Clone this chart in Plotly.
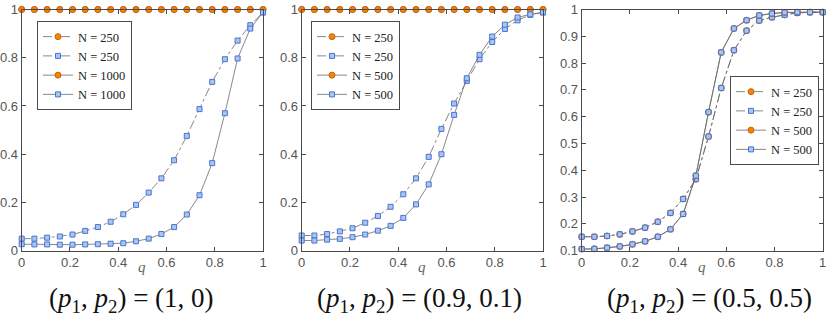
import plotly.graph_objects as go

q = [i / 19 for i in range(20)]

# Panel 1: (p1,p2) = (1,0)
p1_orange_250 = [1.0] * 20
p1_blue_250 = [0.050, 0.050, 0.054, 0.059, 0.067, 0.082, 0.098, 0.120, 0.151, 0.190,
               0.241, 0.300, 0.375, 0.476, 0.587, 0.700, 0.794, 0.871, 0.935, 0.988]
p1_orange_1000 = [1.0] * 20
p1_blue_1000 = [0.027, 0.026, 0.026, 0.025, 0.025, 0.026, 0.027, 0.029, 0.031, 0.039,
                0.050, 0.069, 0.098, 0.150, 0.230, 0.363, 0.570, 0.797, 0.921, 0.988]

# Panel 2: (p1,p2) = (0.9,0.1)
p2_orange_250 = [1.0] * 20
p2_blue_250 = [0.063, 0.063, 0.069, 0.080, 0.093, 0.116, 0.144, 0.182, 0.234, 0.300,
               0.389, 0.505, 0.610, 0.704, 0.794, 0.865, 0.919, 0.955, 0.978, 0.988]
p2_orange_500 = [1.0] * 20
p2_blue_500 = [0.042, 0.042, 0.046, 0.049, 0.056, 0.067, 0.083, 0.103, 0.136, 0.192,
               0.275, 0.400, 0.563, 0.715, 0.812, 0.888, 0.937, 0.967, 0.980, 0.988]

# Panel 3: (p1,p2) = (0.5,0.5)
p3_blue_250 = [0.152, 0.152, 0.155, 0.161, 0.172, 0.186, 0.208, 0.241, 0.293, 0.367,
               0.526, 0.707, 0.848, 0.921, 0.959, 0.971, 0.980, 0.987, 0.990, 0.990]
p3_orange_250 = list(p3_blue_250)
p3_blue_500 = [0.106, 0.107, 0.111, 0.116, 0.124, 0.135, 0.152, 0.180, 0.237, 0.380,
               0.617, 0.840, 0.929, 0.960, 0.978, 0.985, 0.989, 0.990, 0.990, 0.990]
p3_orange_500 = list(p3_blue_500)

panel_titles = ["(<i>p</i><sub>1</sub>, <i>p</i><sub>2</sub>) = (1, 0)",
                "(<i>p</i><sub>1</sub>, <i>p</i><sub>2</sub>) = (0.9, 0.1)",
                "(<i>p</i><sub>1</sub>, <i>p</i><sub>2</sub>) = (0.5, 0.5)"]
legend_names = [["N = 250", "N = 250", "N = 1000", "N = 1000"],
                ["N = 250", "N = 250", "N = 500", "N = 500"],
                ["N = 250", "N = 250", "N = 500", "N = 500"]]
x_ticks = [0, 0.2, 0.4, 0.6, 0.8, 1]
x_ticktext = ["0", "0.2", "0.4", "0.6", "0.8", "1"]
y_ticks_a = [0, 0.2, 0.4, 0.6, 0.8, 1]
y_ticktext_a = ["0", "0.2", "0.4", "0.6", "0.8", "1"]
y_ticks_b = [0.1, 0.2, 0.3, 0.4, 0.5, 0.6, 0.7, 0.8, 0.9, 1]
y_ticktext_b = ["0.1", "0.2", "0.3", "0.4", "0.5", "0.6", "0.7", "0.8", "0.9", "1"]

panels = [
    (p1_orange_250, p1_blue_250, p1_orange_1000, p1_blue_1000),
    (p2_orange_250, p2_blue_250, p2_orange_500, p2_blue_500),
    (p3_orange_250, p3_blue_250, p3_orange_500, p3_blue_500),
]

W, H = 830, 318
x_px = [(21.7, 263.0), (301.7, 543.0), (581.7, 822.7)]
y_top, y_bot = 9.5, 250.7

ORANGE = "#F5820F"
ORANGE_EDGE = "#C9650A"
BLUE = "#A9C5F2"
BLUE_EDGE = "#4A74CC"
LINE = "#6a6a6a"

fig = go.Figure()
legend_ids = ["legend", "legend2", "legend3"]
for i, data in enumerate(panels):
    xa = "x" if i == 0 else f"x{i+1}"
    ya = "y" if i == 0 else f"y{i+1}"
    styles = [
        ("dashdot", "circle", ORANGE, ORANGE_EDGE, 6),
        ("dashdot", "square", BLUE, BLUE_EDGE, 5),
        ("solid", "circle", ORANGE, ORANGE_EDGE, 6),
        ("solid", "square", BLUE, BLUE_EDGE, 5),
    ]
    for j, (ys, st) in enumerate(zip(data, styles)):
        dash, sym, fc, ec, sz = st
        fig.add_trace(go.Scatter(
            x=q, y=ys, xaxis=xa, yaxis=ya, mode="lines+markers",
            name=legend_names[i][j], legend=legend_ids[i],
            line=dict(color=LINE, width=0.8, dash=dash),
            marker=dict(symbol=sym, color=fc, size=sz, line=dict(color=ec, width=1)),
            cliponaxis=False,
        ))

layout = dict(
    width=W, height=H, margin=dict(l=0, r=0, t=0, b=0, autoexpand=False),
    paper_bgcolor="white", plot_bgcolor="white", showlegend=True,
    font=dict(family="Liberation Sans", size=13, color="#555555"),
)
axis_common = dict(showline=True, linecolor="#4a4a4a", linewidth=1, mirror="ticks",
                   ticks="inside", ticklen=4, tickcolor="#4a4a4a", showgrid=False,
                   zeroline=False, automargin=False,
                   tickfont=dict(family="Liberation Sans", size=13, color="#555555"))
ydom = [(H - y_bot) / H, (H - y_top) / H]
for i in range(3):
    xk = "xaxis" if i == 0 else f"xaxis{i+1}"
    yk = "yaxis" if i == 0 else f"yaxis{i+1}"
    ya = "y" if i == 0 else f"y{i+1}"
    xa = "x" if i == 0 else f"x{i+1}"
    layout[xk] = dict(domain=[x_px[i][0] / W, x_px[i][1] / W], range=[0, 1], anchor=ya,
                      tickvals=x_ticks, ticktext=x_ticktext, **axis_common)
    if i < 2:
        layout[yk] = dict(domain=ydom, range=[0, 1], anchor=xa,
                          tickvals=y_ticks_a, ticktext=y_ticktext_a, **axis_common)
    else:
        layout[yk] = dict(domain=ydom, range=[0.1, 1], anchor=xa,
                          tickvals=y_ticks_b, ticktext=y_ticktext_b, **axis_common)

legend_common = dict(bgcolor="white", bordercolor="#4a4a4a", borderwidth=1,
                     font=dict(family="Liberation Serif", size=12.5, color="#222222"),
                     tracegroupgap=0, itemwidth=30)
layout["legend"] = dict(x=37 / W, y=1 - 21 / H, xanchor="left", yanchor="top", **legend_common)
layout["legend2"] = dict(x=311 / W, y=1 - 21 / H, xanchor="left", yanchor="top", **legend_common)
layout["legend3"] = dict(x=819 / W, y=1 - 76 / H, xanchor="right", yanchor="top", **legend_common)

annotations = []
label_cx = [131, 419, 709]
for i in range(3):
    cx = (x_px[i][0] + x_px[i][1]) / 2
    annotations.append(dict(text="<i>q</i>", x=cx / W, y=1 - 267 / H, xref="paper", yref="paper",
                            xanchor="center", yanchor="middle", showarrow=False,
                            font=dict(family="Liberation Serif", size=15, color="#666666")))
    annotations.append(dict(text=panel_titles[i], x=label_cx[i] / W, y=1 - 300 / H, xref="paper",
                            yref="paper", xanchor="center", yanchor="middle", showarrow=False,
                            font=dict(family="Liberation Serif", size=27, color="#111111")))
layout["annotations"] = annotations

fig.update_layout(**layout)
fig.write_html("out.html", config={"displayModeBar": False},
               post_script="document.body.style.margin='0';document.body.style.padding='0';")
